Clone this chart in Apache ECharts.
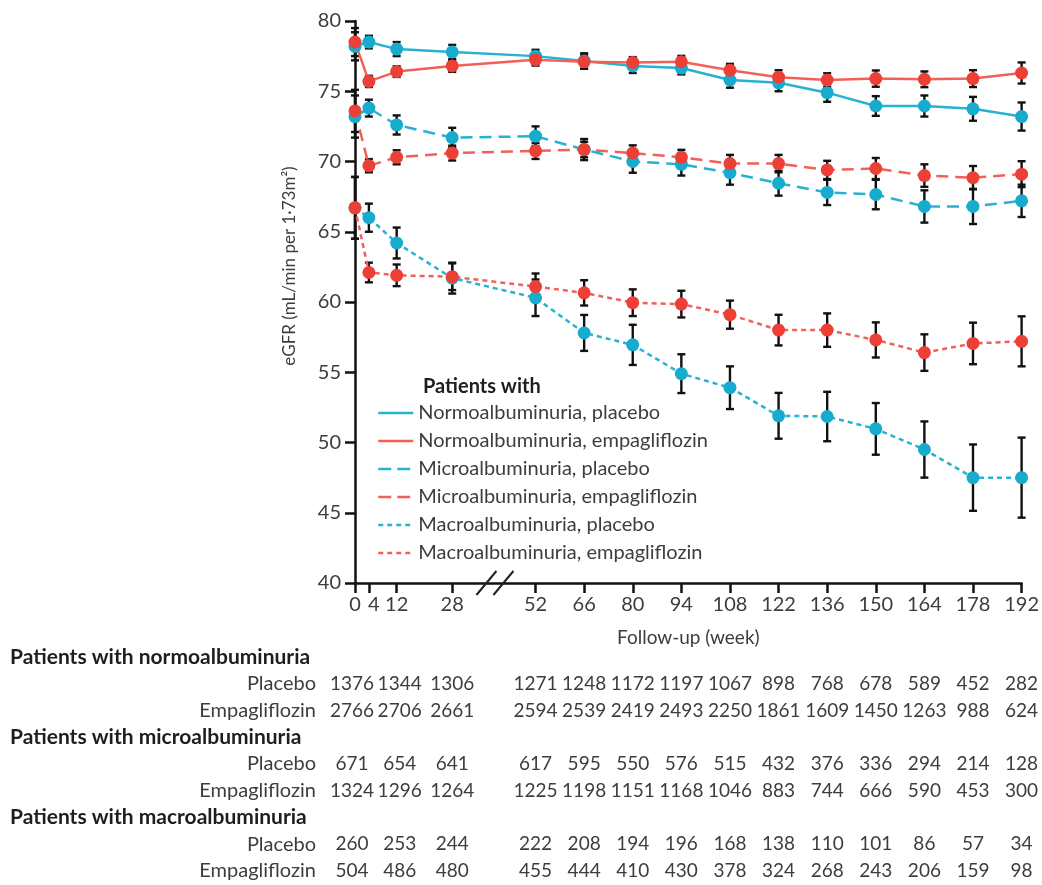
<!DOCTYPE html>
<html><head><meta charset="utf-8">
<script src="https://cdn.jsdelivr.net/npm/echarts@6/dist/echarts.min.js"></script>
<style>html,body{margin:0;padding:0;background:#fff}#main{width:1042px;height:885px}</style>
</head><body><div id="main"></div>
<script>
// ---------- data ----------
const weeks = [0, 4, 12, 28, 52, 66, 80, 94, 108, 122, 136, 150, 164, 178, 192];
const tickWeeks = [0, 4, 12, 28, 52, 66, 80, 94, 108, 122, 136, 150, 164, 178, 192];

const normoPlacebo    = [78.2, 78.5, 78.0, 77.8, 77.5, 77.15, 76.8, 76.65, 75.8, 75.6, 74.9, 73.95, 73.95, 73.75, 73.2];
const normoPlaceboErr = [1.0, 0.45, 0.5, 0.5, 0.45, 0.55, 0.5, 0.45, 0.55, 0.6, 0.65, 0.7, 0.75, 0.85, 1.0];
const normoEmpa       = [78.5, 75.7, 76.4, 76.8, 77.25, 77.1, 77.05, 77.1, 76.5, 76.0, 75.8, 75.9, 75.85, 75.9, 76.3];
const normoEmpaErr    = [1.0, 0.4, 0.38, 0.42, 0.42, 0.5, 0.38, 0.42, 0.45, 0.5, 0.48, 0.58, 0.56, 0.6, 0.75];

const microPlacebo    = [73.2, 73.8, 72.6, 71.7, 71.8, 70.85, 70.0, 69.8, 69.2, 68.45, 67.8, 67.65, 66.8, 66.8, 67.2];
const microPlaceboErr = [1.5, 0.6, 0.68, 0.7, 0.7, 0.75, 0.8, 0.8, 0.85, 0.88, 0.9, 1.05, 1.15, 1.25, 1.15];
const microEmpa       = [73.6, 69.7, 70.3, 70.6, 70.75, 70.85, 70.6, 70.3, 69.85, 69.85, 69.4, 69.5, 69.0, 68.85, 69.1];
const microEmpaErr    = [1.5, 0.47, 0.5, 0.53, 0.57, 0.55, 0.55, 0.53, 0.62, 0.62, 0.65, 0.75, 0.8, 0.83, 0.92];

const macroPlacebo    = [66.7, 66.0, 64.2, 61.7, 60.3, 57.8, 56.95, 54.9, 53.9, 51.9, 51.85, 50.97, 49.5, 47.5, 47.5];
const macroPlaceboErr = [2.2, 1.0, 1.1, 1.1, 1.3, 1.28, 1.43, 1.38, 1.52, 1.63, 1.76, 1.84, 2.0, 2.36, 2.85];
const macroEmpa       = [66.7, 62.1, 61.9, 61.8, 61.1, 60.65, 59.95, 59.85, 59.1, 58.0, 58.0, 57.3, 56.4, 57.05, 57.2];
const macroEmpaErr    = [2.2, 0.7, 0.77, 0.95, 0.93, 0.9, 0.95, 0.95, 1.0, 1.09, 1.19, 1.25, 1.3, 1.48, 1.78];

const atRiskWeeks   = [0, 12, 28, 52, 66, 80, 94, 108, 122, 136, 150, 164, 178, 192];
const normoPlaceboN = [1376, 1344, 1306, 1271, 1248, 1172, 1197, 1067, 898, 768, 678, 589, 452, 282];
const normoEmpaN    = [2766, 2706, 2661, 2594, 2539, 2419, 2493, 2250, 1861, 1609, 1450, 1263, 988, 624];
const microPlaceboN = [671, 654, 641, 617, 595, 550, 576, 515, 432, 376, 336, 294, 214, 128];
const microEmpaN    = [1324, 1296, 1264, 1225, 1198, 1151, 1168, 1046, 883, 744, 666, 590, 453, 300];
const macroPlaceboN = [260, 253, 244, 222, 208, 194, 196, 168, 138, 110, 101, 86, 57, 34];
const macroEmpaN    = [504, 486, 480, 455, 444, 410, 430, 378, 324, 268, 243, 206, 159, 98];

const tableRows = [
  {label: 'Patients with normoalbuminuria', header: true},
  {label: 'Placebo', values: normoPlaceboN},
  {label: 'Empagliflozin', values: normoEmpaN},
  {label: 'Patients with microalbuminuria', header: true},
  {label: 'Placebo', values: microPlaceboN},
  {label: 'Empagliflozin', values: microEmpaN},
  {label: 'Patients with macroalbuminuria', header: true},
  {label: 'Placebo', values: macroPlaceboN},
  {label: 'Empagliflozin', values: macroEmpaN}
];

// ---------- styles ----------
const FONT = 'Lato';
const TXT = '#3d3d3d';
const BLUE = '#17abcd', RED = '#ec3f36';
const BLUE_LINE = '#27b2d2', RED_LINE = '#f0615a';
const DASH = [12, 7], DOT = [5, 4];
const TABLE_TOP = 657, ROW_H = 26.75;
// small horizontal nudges for the two crowded first columns of the table
const colNudge = {0: -3, 12: 3};

const groups = [
  {name: 'Normoalbuminuria, placebo',     v: normoPlacebo, e: normoPlaceboErr, c: BLUE, lc: BLUE_LINE, t: 'solid'},
  {name: 'Normoalbuminuria, empagliflozin', v: normoEmpa, e: normoEmpaErr, c: RED, lc: RED_LINE, t: 'solid'},
  {name: 'Microalbuminuria, placebo',     v: microPlacebo, e: microPlaceboErr, c: BLUE, lc: BLUE_LINE, t: DASH},
  {name: 'Microalbuminuria, empagliflozin', v: microEmpa, e: microEmpaErr, c: RED, lc: RED_LINE, t: DASH},
  {name: 'Macroalbuminuria, placebo',     v: macroPlacebo, e: macroPlaceboErr, c: BLUE, lc: BLUE_LINE, t: DOT},
  {name: 'Macroalbuminuria, empagliflozin', v: macroEmpa, e: macroEmpaErr, c: RED, lc: RED_LINE, t: DOT}
];

const series = [];
groups.forEach(g => {
  series.push({
    type: 'custom', name: g.name + ' SE', silent: true, z: 2,
    data: weeks.map((w, i) => [w, g.v[i] - g.e[i], g.v[i] + g.e[i]]),
    encode: {x: 0, y: [1, 2]},
    renderItem: (params, api) => {
      const x = api.value(0);
      const lo = api.coord([x, api.value(1)]);
      const hi = api.coord([x, api.value(2)]);
      const cw = 4;
      const st = {stroke: '#111', lineWidth: 2.4};
      return {type: 'group', children: [
        {type: 'line', shape: {x1: lo[0], y1: lo[1], x2: hi[0], y2: hi[1]}, style: st},
        {type: 'line', shape: {x1: lo[0] - cw, y1: lo[1], x2: lo[0] + cw, y2: lo[1]}, style: st},
        {type: 'line', shape: {x1: hi[0] - cw, y1: hi[1], x2: hi[0] + cw, y2: hi[1]}, style: st}
      ]};
    }
  });
});
groups.forEach(g => {
  series.push({
    type: 'line', name: g.name, z: 3,
    data: weeks.map((w, i) => [w, g.v[i]]),
    symbol: 'circle', symbolSize: 13,
    itemStyle: {color: g.c},
    lineStyle: {color: g.lc, width: 2.5, type: g.t},
    emphasis: {disabled: true}
  });
});

// axis break mark "//"
series.push({
  type: 'custom', name: 'break', silent: true, clip: false, z: 5,
  data: [[40.3, 40]],
  encode: {x: 0, y: 1},
  renderItem: (params, api) => {
    const p = api.coord([api.value(0), api.value(1)]);
    const st = {stroke: '#222', lineWidth: 2};
    return {type: 'group', children: [-8.5, 8.5].map(dx => ({
      type: 'line', shape: {x1: p[0] + dx - 10, y1: p[1] + 12, x2: p[0] + dx + 10, y2: p[1] - 12}, style: st
    }))};
  }
});

// numbers-at-risk table, aligned with x-axis
const tableData = [];
tableRows.forEach((r, ri) => {
  if (!r.values) return;
  r.values.forEach((n, i) => tableData.push([atRiskWeeks[i], 40, ri, n]));
});
series.push({
  type: 'custom', name: 'atrisk', silent: true, clip: false, z: 5,
  data: tableData,
  encode: {x: 0, y: 1},
  renderItem: (params, api) => {
    const w = api.value(0);
    const p = api.coord([w, api.value(1)]);
    return {type: 'text', x: p[0] + (colNudge[w] || 0), y: TABLE_TOP + api.value(2) * ROW_H,
      style: {text: String(api.value(3)), align: 'center', verticalAlign: 'middle',
              font: '19px ' + FONT, fill: TXT}};
  }
});

const graphics = [];
tableRows.forEach((r, ri) => {
  graphics.push({
    type: 'text', x: r.header ? 10 : 316, y: TABLE_TOP + ri * ROW_H,
    style: {text: r.label, align: r.header ? 'left' : 'right', verticalAlign: 'middle',
            font: (r.header ? 'bold 21px ' : '20px ') + FONT, fill: r.header ? '#1e1e1e' : TXT}
  });
});
graphics.push({
  type: 'text', x: 290, y: 266, rotation: Math.PI / 2,
  style: {text: 'eGFR (mL/min per 1·73m²)', align: 'center', verticalAlign: 'middle',
          font: '17px ' + FONT, fill: TXT}
});

const chart = echarts.init(document.getElementById('main'));
chart.setOption({
  animation: false,
  backgroundColor: '#fff',
  textStyle: {fontFamily: FONT},
  title: {text: 'Patients with', left: 418, top: 372,
          textStyle: {fontFamily: FONT, fontWeight: 'bold', fontSize: 20, color: '#1e1e1e'}},
  legend: {
    orient: 'vertical', left: 377, top: 403, padding: 0,
    itemWidth: 35, itemHeight: 14, itemGap: 8, selectedMode: false,
    textStyle: {fontFamily: FONT, fontSize: 20, color: TXT, lineHeight: 20},
    itemStyle: {opacity: 0},
    data: groups.map(g => ({name: g.name, itemStyle: {opacity: 0},
      lineStyle: {color: g.lc, width: 2.5, type: g.t === 'solid' ? 'solid' : (g.t === DASH ? [13, 6] : [5, 4])}}))
  },
  grid: {left: 355, right: 18, top: 21, bottom: 302},
  xAxis: {
    type: 'value', min: 0, max: 192,
    name: 'Follow-up (week)', nameLocation: 'middle', nameGap: 45,
    nameTextStyle: {fontFamily: FONT, fontSize: 19, color: TXT},
    axisLine: {show: true, onZero: false, lineStyle: {color: '#111', width: 2.5}},
    axisTick: {show: true, length: 10, customValues: tickWeeks, lineStyle: {color: '#111', width: 2.5}},
    axisLabel: {customValues: tickWeeks, margin: 12, fontFamily: FONT, fontSize: 20, color: TXT,
      formatter: v => (v === 4 ? '{s|4}' : String(v)),
      rich: {s: {fontFamily: FONT, fontSize: 20, color: TXT, padding: [0, 0, 0, 10]}}},
    splitLine: {show: false}
  },
  yAxis: {
    type: 'value', min: 40, max: 80, interval: 5,
    axisLine: {show: true, lineStyle: {color: '#111', width: 2.5}},
    axisTick: {show: true, length: 10, lineStyle: {color: '#111', width: 2.5}},
    axisLabel: {margin: 14, fontFamily: FONT, fontSize: 20, color: TXT},
    splitLine: {show: false}
  },
  graphic: graphics,
  series: series
});
</script></body></html>
